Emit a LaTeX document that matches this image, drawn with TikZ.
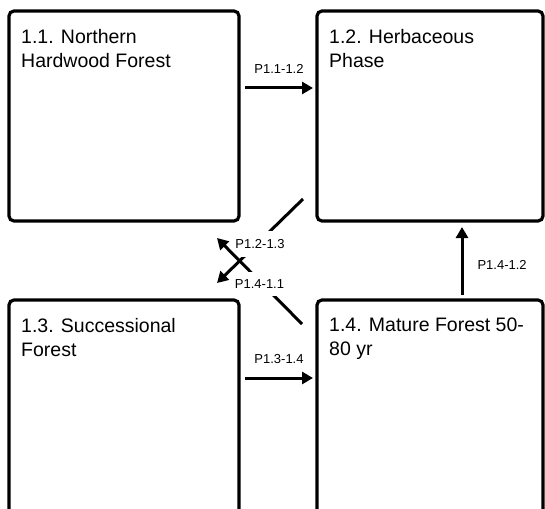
\documentclass[tikz,border=0pt]{standalone}
\usepackage{fontspec}
\setmainfont{Liberation Sans}
\usetikzlibrary{arrows.meta,positioning,calc}

\tikzset{
    statebox/.style = {draw, line width=3.2pt, rounded corners=5pt, outer sep=0pt, inner sep=0pt, anchor=north west},
    statetext/.style = {inner sep=0pt, align=left, font=\fontsize{19.5}{24}\selectfont},
    transition/.style = {line width=3pt, -{Triangle[length=11pt,width=12pt]}},
    plabel/.style = {inner sep=3pt, font=\fontsize{13}{15}\selectfont},
    pcross/.style = {plabel, fill=white, inner xsep=0pt, inner ysep=8pt, yshift=-3pt}
}

\begin{document}
\begin{tikzpicture}[x=1pt, y=-1pt]
    \useasboundingbox (0,0) rectangle (545,508);
    \clip (0,0) rectangle (545,508);
    \node[statebox, minimum width=230pt, minimum height=210pt] (s11) at (9,11) {};
    \node[statebox, minimum width=226pt, minimum height=210pt] (s12) at (317,11) {};
    \node[statebox, minimum width=230pt, minimum height=260pt] (s13) at (9,300) {};
    \node[statebox, minimum width=226pt, minimum height=260pt] (s14) at (317,300) {};
    \node[statetext, below right=18pt and 12pt of s11.north west] (t11) {1.1. Northern\\Hardwood Forest};
    \node[statetext, below right=18pt and 12pt of s12.north west] (t12) {1.2. Herbaceous\\Phase};
    \node[statetext, below right=18pt and 12pt of s13.north west] (t13) {1.3. Successional\\Forest};
    \node[statetext, below right=18pt and 12pt of s14.north west] (t14) {1.4. Mature Forest 50-\\80 yr};
    \draw[transition] ($(s11.north east)+(6,77)$) -- node[plabel, above=10pt] {P1.1-1.2} ($(s12.north west)+(-4,77)$);
    \draw[transition] ($(s13.north east)+(6,78)$) -- node[plabel, above=10pt] {P1.3-1.4} ($(s14.north west)+(-4,78)$);
    \draw[transition] ($(s14.north west)+(145,-5)$) -- node[plabel, right=11pt, pos=0.44] {P1.4-1.2} ($(s12.south west)+(145,6)$);
    \draw[transition] ($(s12.south west)+(-14,-22)$) -- node[pcross] {P1.2-1.3} ($(s13.north east)+(-22,-17)$);
    \draw[transition] ($(s14.north west)+(-15,24)$) -- node[pcross] {P1.4-1.1} ($(s11.south east)+(-22,17)$);
\end{tikzpicture}
\end{document}
